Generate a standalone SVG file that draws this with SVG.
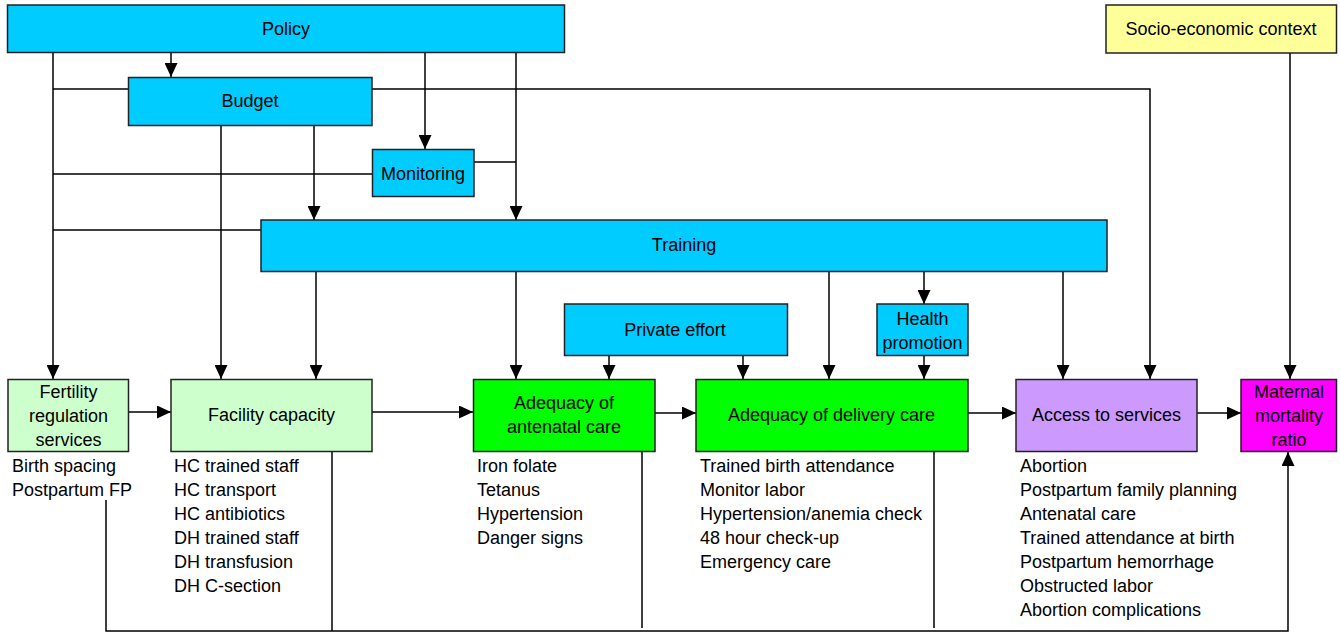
<svg xmlns="http://www.w3.org/2000/svg" width="1340" height="633" viewBox="0 0 1340 633">
<style>
  .box{stroke:#222;stroke-width:1.5}
  .cyan{fill:#00CCFF}
  .lg{fill:#CCFFCC}
  .g{fill:#00FF00}
  .lav{fill:#CC99FF}
  .mag{fill:#FF00FF}
  .yel{fill:#FFFF99}
  text{font-family:"Liberation Sans",Arial,sans-serif;font-size:18px;fill:#000}
  .c{text-anchor:middle}
  .ln{fill:none;stroke:#000;stroke-width:1.5}
  .ar{marker-end:url(#ah)}
</style>
<defs>
  <marker id="ah" markerWidth="14" markerHeight="13" refX="14" refY="6.5" orient="auto" markerUnits="userSpaceOnUse">
    <path d="M0,0 L14,6.5 L0,13 Z" fill="#000"/>
  </marker>
</defs>
<rect width="1340" height="633" fill="#fff"/>

<g id="connectors">
  <path class="ln ar" d="M53,53 V379"/>
  <path class="ln" d="M128,89 H53"/>
  <path class="ln" d="M372,174 H53"/>
  <path class="ln" d="M261,230 H53"/>
  <path class="ln ar" d="M171,53 V77"/>
  <path class="ln ar" d="M425,53 V149"/>
  <path class="ln ar" d="M516,53 V220"/>
  <path class="ln" d="M474,162 H516"/>
  <path class="ln ar" d="M221,126 V379"/>
  <path class="ln ar" d="M314,126 V220"/>
  <path class="ln ar" d="M372,89 H1150 V379"/>
  <path class="ln ar" d="M1290,53 V379"/>
  <path class="ln ar" d="M316,272 V379"/>
  <path class="ln ar" d="M516,272 V379"/>
  <path class="ln ar" d="M829,272 V379"/>
  <path class="ln ar" d="M924,272 V304"/>
  <path class="ln ar" d="M1063,272 V379"/>
  <path class="ln ar" d="M609,356 V379"/>
  <path class="ln ar" d="M743,356 V379"/>
  <path class="ln ar" d="M924,356 V379"/>
  <path class="ln ar" d="M129,412 H171"/>
  <path class="ln ar" d="M372,412 H473"/>
  <path class="ln ar" d="M655,413 H696"/>
  <path class="ln ar" d="M968,413 H1016"/>
  <path class="ln ar" d="M1197,413 H1241"/>
  <path class="ln ar" d="M106,500 V631 H1288 V452"/>
  <path class="ln" d="M332,452 V631"/>
  <path class="ln" d="M642,452 V628"/>
  <path class="ln" d="M934,452 V628"/>
</g>

<g id="policy"><rect class="box cyan" x="7.5" y="5" width="557" height="47.5"/><text class="c" x="286" y="35">Policy</text></g>
<g id="budget"><rect class="box cyan" x="128.5" y="77.5" width="243.5" height="48"/><text class="c" x="250" y="107">Budget</text></g>
<g id="monitoring"><rect class="box cyan" x="372.5" y="149.5" width="101.5" height="47"/><text class="c" x="423" y="180">Monitoring</text></g>
<g id="training"><rect class="box cyan" x="261" y="220" width="846" height="51.5"/><text class="c" x="684" y="251">Training</text></g>
<g id="socio"><rect class="box yel" x="1106" y="5" width="230.5" height="48"/><text class="c" x="1221" y="35">Socio-economic context</text></g>
<g id="private"><rect class="box cyan" x="564.5" y="304" width="223" height="51.5"/><text class="c" x="675" y="336">Private effort</text></g>
<g id="health"><rect class="box cyan" x="877" y="304" width="91" height="51.5"/><text class="c" x="922.5" y="325">Health</text><text class="c" x="922.5" y="349">promotion</text></g>
<g id="fertility"><rect class="box lg" x="8" y="379.5" width="120.5" height="72"/><text class="c" x="68.5" y="398">Fertility</text><text class="c" x="68.5" y="422">regulation</text><text class="c" x="68.5" y="446">services</text></g>
<g id="facility"><rect class="box lg" x="171" y="379.5" width="201" height="72"/><text class="c" x="271.5" y="421">Facility capacity</text></g>
<g id="antenatal"><rect class="box g" x="473.5" y="379.5" width="181.5" height="72"/><text class="c" x="564" y="409">Adequacy of</text><text class="c" x="564" y="433">antenatal care</text></g>
<g id="delivery"><rect class="box g" x="696" y="379.5" width="272" height="72"/><text class="c" x="831.5" y="421">Adequacy of delivery care</text></g>
<g id="access"><rect class="box lav" x="1016" y="379.5" width="181" height="72"/><text class="c" x="1106.5" y="421">Access to services</text></g>
<g id="maternal"><rect class="box mag" x="1241" y="379.5" width="95.5" height="72"/><text class="c" x="1289" y="398">Maternal</text><text class="c" x="1289" y="422">mortality</text><text class="c" x="1289" y="446">ratio</text></g>

<g id="fertility-items">
  <text x="12" y="472">Birth spacing</text>
  <text x="12" y="496">Postpartum FP</text>
</g>
<g id="facility-items">
  <text x="174" y="472">HC trained staff</text>
  <text x="174" y="496">HC transport</text>
  <text x="174" y="520">HC antibiotics</text>
  <text x="174" y="544">DH trained staff</text>
  <text x="174" y="568">DH transfusion</text>
  <text x="174" y="592">DH C-section</text>
</g>
<g id="antenatal-items">
  <text x="477" y="472">Iron folate</text>
  <text x="477" y="496">Tetanus</text>
  <text x="477" y="520">Hypertension</text>
  <text x="477" y="544">Danger signs</text>
</g>
<g id="delivery-items">
  <text x="700" y="472">Trained birth attendance</text>
  <text x="700" y="496">Monitor labor</text>
  <text x="700" y="520">Hypertension/anemia check</text>
  <text x="700" y="544">48 hour check-up</text>
  <text x="700" y="568">Emergency care</text>
</g>
<g id="access-items">
  <text x="1020" y="472">Abortion</text>
  <text x="1020" y="496">Postpartum family planning</text>
  <text x="1020" y="520">Antenatal care</text>
  <text x="1020" y="544">Trained attendance at birth</text>
  <text x="1020" y="568">Postpartum hemorrhage</text>
  <text x="1020" y="592">Obstructed labor</text>
  <text x="1020" y="616">Abortion complications</text>
</g>
</svg>
